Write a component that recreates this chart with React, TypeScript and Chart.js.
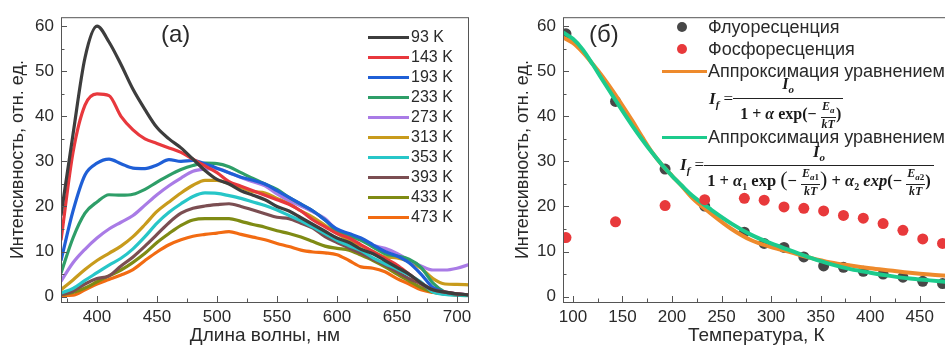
import React, { useEffect, useRef } from "react";
import { Chart, registerables } from "chart.js";
Chart.register(...registerables);

// ---------- Panel (a): spectra ----------
const wavelengths = [370, 380, 390, 400, 410, 420, 430, 440, 450, 460, 470, 480, 490, 500, 510, 520, 530, 540, 550, 560, 570, 580, 590, 600, 610, 620, 630, 640, 650, 660, 670, 680, 690, 700, 710];
const s93 = [18, 36, 53, 60, 56.5, 51.5, 46, 41.5, 37.5, 35, 33, 30.5, 28, 26, 25, 23.5, 22.5, 21.5, 20, 19, 17.5, 16, 14.5, 13, 12, 10.5, 9.5, 8, 6.5, 5, 3, 1.5, 1, 0.6, 0.4];
const s143 = [12.5, 32, 42.5, 45, 44.6, 40, 37, 35, 34, 33, 32, 30.5, 29, 27.5, 25.5, 24.5, 23.5, 22.5, 21.5, 20.5, 19, 17, 15.5, 14, 13, 11.5, 10, 8.5, 7, 5, 3, 1.5, 1, 0.6, 0.4];
const s193 = [8, 19, 27, 29.6, 30.5, 29.5, 28.5, 28.4, 29.2, 30.4, 30, 30.2, 29.5, 28.5, 27.5, 26.5, 25.8, 25, 23.5, 22, 20.5, 19, 17, 15, 14, 13, 11.5, 10, 9, 7.5, 5, 2, 1, 0.6, 0.4];
const s233 = [5.2, 13, 18.5, 21, 22.6, 22.5, 22.7, 23.8, 25.4, 26.9, 28.2, 29.1, 29.6, 29.5, 28.8, 27.5, 26.2, 25, 23.8, 22, 20.5, 19, 17, 14.5, 13.5, 12.5, 11, 9.5, 9, 8.3, 6.5, 3, 1, 0.5, 0.3];
const s273 = [3.4, 7.5, 10.5, 13, 15, 16.5, 18, 20.3, 22.6, 24.6, 26.3, 27.8, 28.3, 28.4, 27.5, 26.4, 25.5, 24.6, 22.8, 21.3, 20.1, 18.8, 17.3, 14.8, 13.8, 12.8, 11.4, 10.7, 9.6, 8.1, 6.8, 5.9, 5.9, 6.3, 7.1];
const s313 = [1.5, 3.7, 6, 8, 9.6, 11.2, 13.3, 16, 18.9, 21, 23, 24.7, 25.8, 25.8, 25.1, 24.2, 23.3, 23, 21.8, 20.6, 19, 17.6, 15.8, 14, 12.5, 11.3, 10, 8.8, 8.6, 7.8, 6.3, 4, 2.8, 2.7, 2.6];
const s353 = [0.8, 1.8, 3.6, 5.3, 7, 8.5, 10.6, 13.3, 16.3, 18.7, 20.6, 22.2, 23, 22.9, 22.4, 21.8, 21, 20.2, 19.2, 18, 16.8, 15.4, 14, 12.5, 11.3, 10.2, 8.6, 7.3, 6.1, 4.8, 3.2, 1, 0.5, 0.3, 0.2];
const s393 = [0.4, 1.2, 2.8, 4, 4.6, 6.8, 8.8, 11.2, 13.8, 16.4, 18.5, 19.6, 20.1, 20.4, 20.6, 20, 19.2, 18.4, 17.6, 17.3, 16.3, 15.2, 13.3, 12, 10.8, 9.6, 8.3, 7, 5.5, 4, 2.8, 1.2, 0.7, 0.4, 0.3];
const s433 = [0.4, 0.9, 1.9, 3.3, 4.6, 5.9, 7.6, 9.6, 12, 14, 15.8, 17, 17.3, 17.3, 17.3, 16.7, 16, 15.4, 14.6, 14, 13.2, 12.2, 11.2, 10.7, 10.3, 9.2, 8, 6.6, 5, 3.5, 2, 1, 0.6, 0.4, 0.3];
const s473 = [0.2, 0.3, 1.5, 2.8, 3.8, 4.8, 6, 8, 9.9, 11.5, 12.6, 13.4, 13.8, 14.1, 14.4, 13.8, 13.2, 12.6, 11.8, 11.1, 10.3, 9.9, 9.7, 9.3, 8, 6.6, 6.3, 5.5, 4, 2.8, 1.5, 0.9, 0.6, 0.4, 0.3];
const spectraLabels = ["93 K", "143 K", "193 K", "233 K", "273 K", "313 K", "353 K", "393 K", "433 K", "473 K"];
const spectraSeries = [s93, s143, s193, s233, s273, s313, s353, s393, s433, s473];
const spectraColors = ["#3d3d3d", "#e8383d", "#1f5fd6", "#2e9e68", "#a97be6", "#c89b1c", "#27c6c8", "#7b4e52", "#7f8b14", "#f26b12"];

// ---------- Panel (б): temperature dependence ----------
const temps = [93, 143, 193, 233, 273, 293, 313, 333, 353, 373, 393, 413, 433, 453, 473];
const fluor = [58.3, 43.3, 28.3, 20.1, 14.3, 11.8, 10.9, 8.8, 6.8, 6.5, 5.6, 5.0, 4.3, 3.4, 2.9];
const phos = [13.1, 16.6, 20.2, 21.5, 21.8, 21.4, 19.9, 19.6, 19.0, 18.0, 17.4, 16.2, 14.7, 12.8, 11.8];
const fitT = [90, 100, 110, 120, 130, 140, 150, 160, 170, 180, 190, 200, 210, 220, 240, 260, 280, 300, 320, 340, 360, 380, 400, 420, 440, 460, 480];
const fit1 = [57.5, 56.3, 54.2, 51.6, 48.8, 45.7, 42.4, 39.0, 35.4, 32.0, 29.2, 26.8, 24.5, 22.0, 18.3, 15.0, 12.5, 11.0, 9.8, 8.6, 7.6, 6.9, 6.3, 5.8, 5.3, 4.9, 4.6];
const fit2 = [58.6, 57.2, 54.8, 51.5, 48.0, 44.6, 41.2, 37.9, 34.8, 31.9, 29.2, 26.8, 24.6, 22.5, 19.2, 16.2, 13.7, 11.8, 10.2, 8.6, 7.2, 6.1, 5.3, 4.6, 4.0, 3.6, 3.2];
const legendB = ["Флуоресценция", "Фосфоресценция", "Аппроксимация уравнением", "Аппроксимация уравнением"];

const FONT = "'Liberation Sans', Arial, sans-serif";
const AXIS = "#555";
const TXT = "#2a2a2a";

const frameTicks = {
  id: "frameTicks",
  afterDraw(chart: any, _args: any, opts: any) {
    const { ctx, chartArea: a } = chart;
    const xs = chart.scales.x, ys = chart.scales.y;
    ctx.save();
    ctx.strokeStyle = AXIS;
    ctx.lineWidth = 1;
    ctx.strokeRect(a.left + 0.5, a.top + 0.5, a.right - a.left - 1, a.bottom - a.top);
    ctx.beginPath();
    const xm = opts.xMinor, ym = opts.yMinor;
    for (let v = Math.ceil(xs.min / xm) * xm; v <= xs.max; v += xm) {
      const p = Math.round(xs.getPixelForValue(v)) + 0.5;
      const major = Math.abs(v / (2 * xm) - Math.round(v / (2 * xm))) < 1e-6;
      ctx.moveTo(p, a.bottom);
      ctx.lineTo(p, a.bottom - (major ? 6 : 3.5));
    }
    for (let v = Math.ceil(ys.min / ym) * ym; v <= ys.max; v += ym) {
      const p = Math.round(ys.getPixelForValue(v)) + 0.5;
      const major = Math.abs(v / (2 * ym) - Math.round(v / (2 * ym))) < 1e-6;
      ctx.moveTo(a.left, p);
      ctx.lineTo(a.left + (major ? 6 : 3.5), p);
    }
    ctx.stroke();
    ctx.restore();
  },
};

function axisX(min: number, max: number, title: string, h: number) {
  return {
    type: "linear" as const,
    min, max,
    afterFit: (s: any) => { s.height = h; },
    grid: { display: false, drawTicks: false },
    border: { display: false },
    ticks: { stepSize: 50, includeBounds: false, padding: 5, color: TXT, font: { family: FONT, size: 17 } },
    title: { display: true, text: title, color: TXT, font: { family: FONT, size: 19 }, padding: { top: 0, bottom: 0 } },
  };
}
function axisY(w: number, titlePad: number) {
  return {
    type: "linear" as const,
    min: -1.2, max: 62,
    afterFit: (s: any) => { s.width = w; },
    grid: { display: false, drawTicks: false },
    border: { display: false },
    ticks: { stepSize: 10, includeBounds: false, padding: 7, color: TXT, font: { family: FONT, size: 17 } },
    title: { display: true, text: "Интенсивность, отн. ед.", color: TXT, font: { family: FONT, size: 18 }, padding: { top: titlePad, bottom: 0 } },
  };
}

function PanelA() {
  const ref = useRef<HTMLCanvasElement>(null);
  useEffect(() => {
    const chart = new Chart(ref.current!, {
      type: "line",
      data: {
        datasets: spectraSeries.map((s, i) => ({
          label: spectraLabels[i],
          data: s.map((y, j) => ({ x: wavelengths[j], y })),
          borderColor: spectraColors[i],
          borderWidth: 3.2,
          pointRadius: 0,
          cubicInterpolationMode: "monotone" as const,
          clip: 0,
          order: i,
        })),
      },
      options: {
        responsive: false,
        animation: false,
        layout: { padding: { top: 15, right: 11, left: 0, bottom: 0 } },
        plugins: { legend: { display: false }, tooltip: { enabled: false }, frameTicks: { xMinor: 25, yMinor: 5 } } as any,
        scales: { x: axisX(370, 710, "Длина волны, нм", 45), y: axisY(61, 7) } as any,
      },
      plugins: [frameTicks],
    });
    return () => chart.destroy();
  }, []);
  return <canvas ref={ref} width={480} height={347} style={{ position: "absolute", left: 0, top: 0, width: 480, height: 347 }} />;
}

function PanelB() {
  const ref = useRef<HTMLCanvasElement>(null);
  useEffect(() => {
    const chart = new Chart(ref.current!, {
      type: "scatter",
      data: {
        datasets: [
          { type: "scatter" as const, label: legendB[0], data: temps.map((t, i) => ({ x: t, y: fluor[i] })), backgroundColor: "#474747", borderWidth: 0, pointRadius: 5.5, clip: 0, order: 3 },
          { type: "line" as const, label: legendB[2], data: fitT.map((t, i) => ({ x: t, y: fit1[i] })), borderColor: "#ee8a2c", borderWidth: 4, pointRadius: 0, cubicInterpolationMode: "monotone" as const, clip: 0, order: 2 },
          { type: "line" as const, label: legendB[3], data: fitT.map((t, i) => ({ x: t, y: fit2[i] })), borderColor: "#1ccb8c", borderWidth: 4, pointRadius: 0, cubicInterpolationMode: "monotone" as const, clip: 0, order: 1 },
          { type: "scatter" as const, label: legendB[1], data: temps.map((t, i) => ({ x: t, y: phos[i] })), backgroundColor: "#e8393b", borderWidth: 0, pointRadius: 5.5, clip: 0, order: 0 },
        ],
      } as any,
      options: {
        responsive: false,
        animation: false,
        layout: { padding: { top: 15, right: 4, left: 0, bottom: 0 } },
        plugins: { legend: { display: false }, tooltip: { enabled: false }, frameTicks: { xMinor: 25, yMinor: 5 } } as any,
        scales: { x: axisX(90, 480, "Температура, К", 45), y: axisY(83, 32) } as any,
      },
      plugins: [frameTicks],
    });
    return () => chart.destroy();
  }, []);
  return <canvas ref={ref} width={475} height={347} style={{ position: "absolute", left: 480, top: 0, width: 475, height: 347 }} />;
}

const serif = "'Liberation Serif', 'DejaVu Serif', serif";

function Frac({ num, den, size, bar = 1, numPad = 1, denPad = 0 }: { num: any; den: any; size: number; bar?: number; numPad?: number; denPad?: number }) {
  return (
    <span style={{ display: "inline-flex", flexDirection: "column", alignItems: "center", verticalAlign: "middle", fontSize: size, lineHeight: 1.05 }}>
      <span style={{ padding: `0 1px ${numPad}px` }}>{num}</span>
      <span style={{ borderTop: `${bar}px solid #222`, padding: `${denPad}px 1px 0`, alignSelf: "stretch", textAlign: "center" }}>{den}</span>
    </span>
  );
}

const I = ({ s }: { s: string }) => <i>{s}</i>;

function Formula1() {
  return (
    <div style={{ position: "absolute", left: 709, top: 76, fontFamily: serif, fontWeight: "bold", fontSize: 17, color: "#1a1a1a", display: "flex", alignItems: "center", whiteSpace: "nowrap" }}>
      <span style={{ marginTop: -6 }}><I s="I" /><sub style={{ fontSize: 11 }}><i>f</i></sub><span style={{ fontWeight: "normal" }}> = </span></span>
      <Frac size={16} bar={1.3} numPad={2} denPad={1} num={<span><I s="I" /><sub style={{ fontSize: 11 }}><i>o</i></sub></span>}
        den={<span style={{ display: "inline-block", padding: "0 1px 0 6px" }}>1 + <I s="α" /> exp(− <Frac size={12} num={<span><I s="E" /><sub style={{ fontSize: 9 }}><i>a</i></sub></span>} den={<I s="kT" />} />)</span>} />
    </div>
  );
}

function Formula2() {
  return (
    <div style={{ position: "absolute", left: 680, top: 143, fontFamily: serif, fontWeight: "bold", fontSize: 17, color: "#1a1a1a", display: "flex", alignItems: "center", whiteSpace: "nowrap" }}>
      <span style={{ marginTop: -8 }}><I s="I" /><sub style={{ fontSize: 11 }}><i>f</i></sub><span style={{ fontWeight: "normal" }}> = </span></span>
      <Frac size={16.5} bar={1.3} numPad={1} denPad={1} num={<span><I s="I" /><sub style={{ fontSize: 11 }}><i>o</i></sub></span>}
        den={<span style={{ display: "inline-block", padding: "0 2px" }}>1 + <I s="α" /><sub style={{ fontSize: 10 }}>1</sub> exp <span style={{ fontSize: 22, fontWeight: "normal" }}>(</span>− <Frac size={12} num={<span><I s="E" /><sub style={{ fontSize: 9 }}><i>a</i>1</sub></span>} den={<I s="kT" />} /><span style={{ fontSize: 22, fontWeight: "normal" }}>)</span> + <I s="α" /><sub style={{ fontSize: 10 }}>2</sub> <i>exp</i>(− <Frac size={12} num={<span><I s="E" /><sub style={{ fontSize: 9 }}><i>a</i>2</sub></span>} den={<I s="kT" />} />)</span>} />
    </div>
  );
}

export default function App() {
  useEffect(() => {
    document.body.style.margin = "0";
  }, []);
  const txt = { position: "absolute" as const, fontFamily: FONT, color: TXT, whiteSpace: "nowrap" as const };
  return (
    <div style={{ position: "fixed", left: 0, top: 0, width: 945, height: 347, overflow: "hidden", background: "#fff" }}>
      <PanelA />
      <PanelB />
      <div style={{ ...txt, left: 161, top: 20, fontSize: 24, lineHeight: "28px" }}>(a)</div>
      <div style={{ ...txt, left: 589, top: 20, fontSize: 24, lineHeight: "28px" }}>(б)</div>
      {spectraLabels.map((l, i) => (
        <React.Fragment key={l}>
          <div style={{ position: "absolute", left: 368, top: 37 + 20 * i - 1.5, width: 41, height: 3, background: spectraColors[i] }} />
          <div style={{ ...txt, left: 411, top: 27 + 20 * i, height: 20, lineHeight: "20px", fontSize: 16 }}>{l}</div>
        </React.Fragment>
      ))}
      <div style={{ position: "absolute", left: 677, top: 22, width: 10, height: 10, borderRadius: 5, background: "#474747" }} />
      <div style={{ position: "absolute", left: 677, top: 44, width: 10, height: 10, borderRadius: 5, background: "#e8393b" }} />
      <div style={{ position: "absolute", left: 662, top: 69.5, width: 45, height: 3, background: "#ee8a2c" }} />
      <div style={{ position: "absolute", left: 662, top: 135.5, width: 45, height: 3, background: "#1ccb8c" }} />
      <div style={{ ...txt, left: 708, top: 16, lineHeight: "22px", fontSize: 18 }}>{legendB[0]}</div>
      <div style={{ ...txt, left: 708, top: 38, lineHeight: "22px", fontSize: 18 }}>{legendB[1]}</div>
      <div style={{ ...txt, left: 708, top: 60, lineHeight: "22px", fontSize: 18 }}>{legendB[2]}</div>
      <div style={{ ...txt, left: 708, top: 126, lineHeight: "22px", fontSize: 18 }}>{legendB[3]}</div>
      <Formula1 />
      <Formula2 />
    </div>
  );
}
